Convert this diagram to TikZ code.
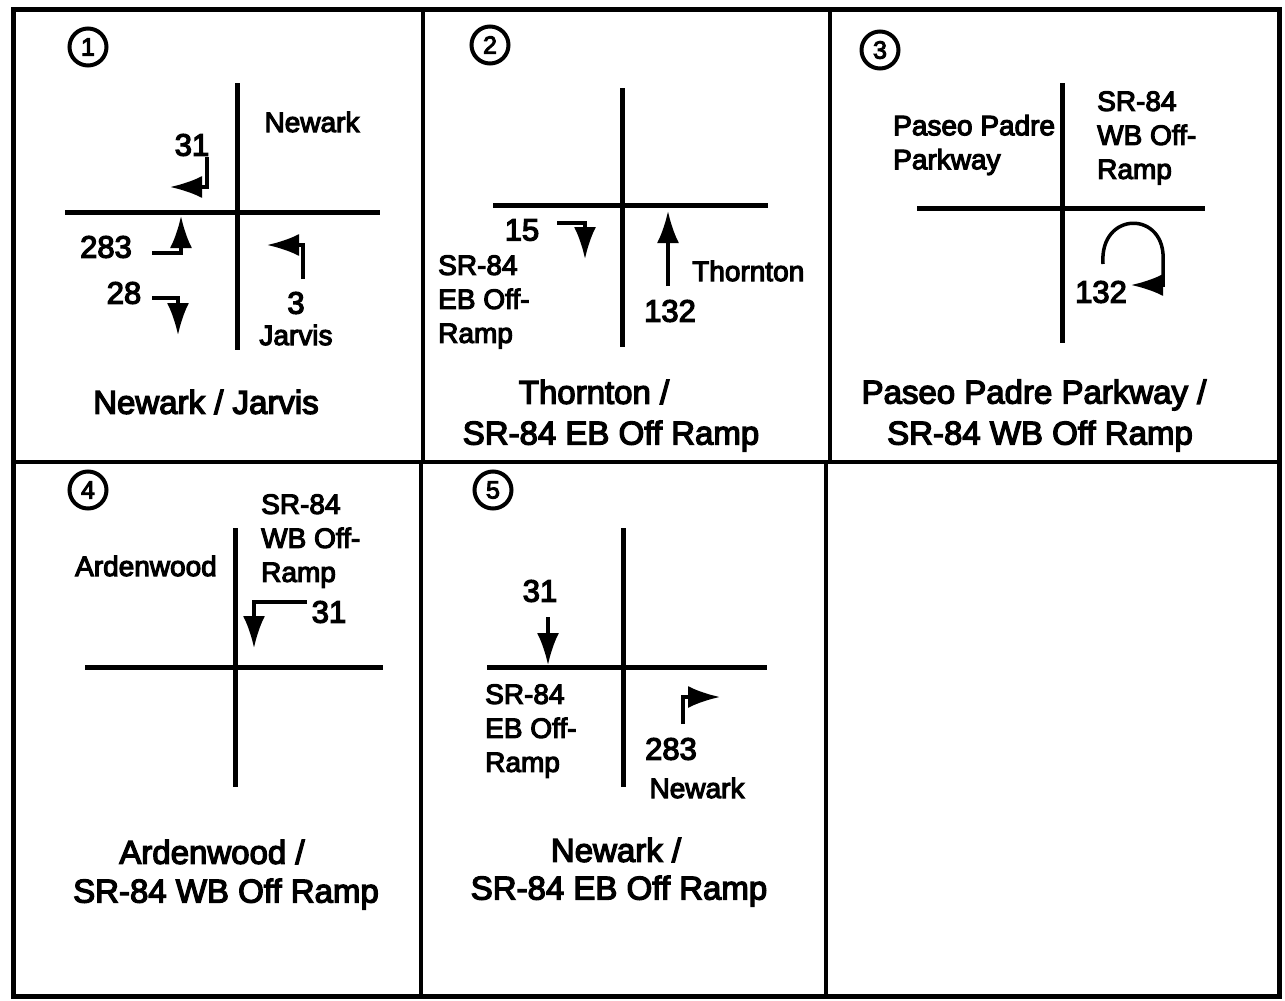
\documentclass[tikz,border=0pt]{standalone}
\usepackage{fontspec}
\setmainfont{Liberation Sans}[FakeBold=4]
\usetikzlibrary{arrows.meta}
\tikzset{
  frame/.style={line width=5pt},
  divider/.style={line width=4pt},
  road/.style={line width=5pt},
  mv/.style={line width=3.5pt, -{Latex[length=32pt,width=22pt]}},
  lbl/.style={font=\fontsize{28}{34}\selectfont, inner sep=0pt, align=left},
  num/.style={font=\fontsize{31}{34}\selectfont, inner sep=0pt},
  ttl/.style={font=\fontsize{33}{44}\selectfont, inner sep=0pt},
  cnum/.style={circle, draw, line width=4pt, minimum size=37pt, inner sep=0pt, font=\fontsize{25}{25}\selectfont},
}
\begin{document}
\begin{tikzpicture}[x=1pt,y=-1pt]
\useasboundingbox (0,0) rectangle (1285,1001);
% frame and grid
\draw[frame] (13,9) rectangle (1279,996);
\draw[divider] (13,462) -- (1279,462);
\draw[divider] (423,9) -- (423,462);
\draw[divider] (830,9) -- (830,462);
\draw[divider] (421,462) -- (421,996);
\draw[divider] (826,462) -- (826,996);

% ---------- Panel 1 ----------
\node[cnum] (c1) at (88,47) {1};
\draw[road] (237,83) -- (237,350);
\draw[road] (65,212) -- (380,212);
\node[lbl] (p1newark) at (312,122) {Newark};
\node[num] (p1n31) at (192,145) {31};
\coordinate (p1a) at (207,157); \coordinate (p1b) at (207,187); \coordinate (p1c) at (170,187);
\draw[mv] (p1a) -- (p1b) -- (p1c);
\node[num] (p1n283) at (106,247) {283};
\coordinate (p1d) at (152,253); \coordinate (p1e) at (181,253); \coordinate (p1f) at (181,216);
\draw[mv] (p1d) -- (p1e) -- (p1f);
\node[num] (p1n28) at (124,293) {28};
\coordinate (p1g) at (152,298); \coordinate (p1h) at (178,298); \coordinate (p1i) at (178,335);
\draw[mv] (p1g) -- (p1h) -- (p1i);
\coordinate (p1j) at (303,279); \coordinate (p1k) at (303,245); \coordinate (p1l) at (267,245);
\draw[mv] (p1j) -- (p1k) -- (p1l);
\node[num] (p1n3) at (296,303) {3};
\node[lbl] (p1jarvis) at (296,335) {Jarvis};
\node[ttl] (t1) at (206,402) {Newark / Jarvis};

% ---------- Panel 2 ----------
\node[cnum] (c2) at (490,45) {2};
\draw[road] (622,88) -- (622,347);
\draw[road] (493,205) -- (768,205);
\node[num] (p2n15) at (522,230) {15};
\coordinate (p2a) at (557,223); \coordinate (p2b) at (585,223); \coordinate (p2c) at (585,259);
\draw[mv] (p2a) -- (p2b) -- (p2c);
\node[lbl, anchor=west] (p2ramp) at (438,302) {SR-84\\EB Off-\\Ramp};
\coordinate (p2d) at (668,286); \coordinate (p2e) at (668,211);
\draw[mv] (p2d) -- (p2e);
\node[lbl, anchor=west] (p2thornton) at (692,271) {Thornton};
\node[num] (p2n132) at (670,311) {132};
\node[ttl] (t2a) at (594,392) {Thornton /};
\node[ttl] (t2b) at (611,436) {SR-84 EB Off Ramp};

% ---------- Panel 3 ----------
\node[cnum] (c3) at (880,50) {3};
\draw[road] (1062,83) -- (1062,343);
\draw[road] (917,208) -- (1205,208);
\node[lbl, anchor=west] (p3paseo) at (893,145) {Paseo Padre\\Parkway};
\node[lbl, anchor=west] (p3ramp) at (1097,138) {SR-84\\WB Off-\\Ramp};
\coordinate (p3a) at (1103,264); \coordinate (p3b) at (1163,262);
\coordinate (p3c) at (1163,285); \coordinate (p3d) at (1131,285);
\draw[mv] (p3a) .. controls (1099,210) and (1167,210) .. (p3b) -- (p3c) -- (p3d);
\node[num] (p3n132) at (1101,292) {132};
\node[ttl] (t3a) at (1034,395) {Paseo Padre Parkway /};
\node[ttl] (t3b) at (1040,436) {SR-84 WB Off Ramp};

% ---------- Panel 4 ----------
\node[cnum] (c4) at (88,490) {4};
\draw[road] (235,528) -- (235,787);
\draw[road] (85,667) -- (383,667);
\node[lbl] (p4arden) at (146,566) {Ardenwood};
\node[lbl, anchor=west] (p4ramp) at (261,541) {SR-84\\WB Off-\\Ramp};
\coordinate (p4a) at (307,602); \coordinate (p4b) at (254,602); \coordinate (p4c) at (254,648);
\draw[mv] (p4a) -- (p4b) -- (p4c);
\node[num] (p4n31) at (329,612) {31};
\node[ttl] (t4a) at (212,852) {Ardenwood /};
\node[ttl] (t4b) at (226,894) {SR-84 WB Off Ramp};

% ---------- Panel 5 ----------
\node[cnum] (c5) at (493,490) {5};
\draw[road] (623,528) -- (623,787);
\draw[road] (487,667) -- (767,667);
\node[num] (p5n31) at (540,591) {31};
\coordinate (p5a) at (548,617); \coordinate (p5b) at (548,665);
\draw[mv] (p5a) -- (p5b);
\node[lbl, anchor=west] (p5ramp) at (485,731) {SR-84\\EB Off-\\Ramp};
\coordinate (p5c) at (683,724); \coordinate (p5d) at (683,697); \coordinate (p5e) at (720,697);
\draw[mv] (p5c) -- (p5d) -- (p5e);
\node[num] (p5n283) at (671,749) {283};
\node[lbl] (p5newark) at (697,788) {Newark};
\node[ttl] (t5a) at (616,850) {Newark /};
\node[ttl] (t5b) at (619,891) {SR-84 EB Off Ramp};
\end{tikzpicture}
\end{document}
